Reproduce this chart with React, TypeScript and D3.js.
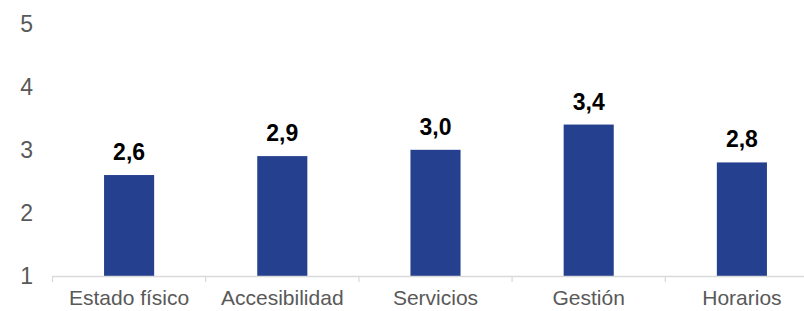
import React from "react";
import * as d3 from "d3";

const categories = ["Estado físico", "Accesibilidad", "Servicios", "Gestión", "Horarios"];
const values = [2.6, 2.9, 3.0, 3.4, 2.8];
const valueLabels = ["2,6", "2,9", "3,0", "3,4", "2,8"];
const yTicks = [1, 2, 3, 4, 5];

const W = 804;
const H = 311;
const FONT = "'Liberation Sans', Arial, sans-serif";

export default function App() {
  const x = d3
    .scaleBand<string>()
    .domain(categories)
    .range([52.5, 52.5 + 5 * 153.2])
    .paddingInner(0.673)
    .paddingOuter(0.3365);
  const y = d3.scaleLinear().domain([1, 5]).range([276, 23.6]);
  const step = x.step();
  const boundaries = d3.range(categories.length + 1).map((i) => 52.5 + i * step);

  return (
    <svg
      width={W}
      height={H}
      style={{ position: "absolute", left: 0, top: 0, background: "#fff" }}
    >
      {yTicks.map((t) => (
        <text
          key={t}
          x={33}
          y={y(t) + 8.3}
          textAnchor="end"
          fontFamily={FONT}
          fontSize={23}
          fill="#595959"
        >
          {t}
        </text>
      ))}
      {categories.map((c, i) => (
        <rect
          key={c}
          x={x(c)}
          y={y(values[i])}
          width={x.bandwidth()}
          height={y(1) - y(values[i])}
          fill="#25408F"
        />
      ))}
      <line x1={52.5} x2={W} y1={y(1) + 0.5} y2={y(1) + 0.5} stroke="#D9D9D9" strokeWidth={1.5} />
      {boundaries.map((b, i) => (
        <line key={i} x1={b} x2={b} y1={y(1)} y2={y(1) + 6} stroke="#D9D9D9" strokeWidth={1.2} />
      ))}
      {categories.map((c, i) => (
        <text
          key={c}
          x={(x(c) as number) + x.bandwidth() / 2}
          y={y(values[i]) - 15}
          textAnchor="middle"
          fontFamily={FONT}
          fontSize={23}
          fontWeight="bold"
          fill="#000"
        >
          {valueLabels[i]}
        </text>
      ))}
      {categories.map((c) => (
        <text
          key={c}
          x={(x(c) as number) + x.bandwidth() / 2}
          y={305}
          textAnchor="middle"
          fontFamily={FONT}
          fontSize={21}
          fill="#595959"
        >
          {c}
        </text>
      ))}
    </svg>
  );
}
